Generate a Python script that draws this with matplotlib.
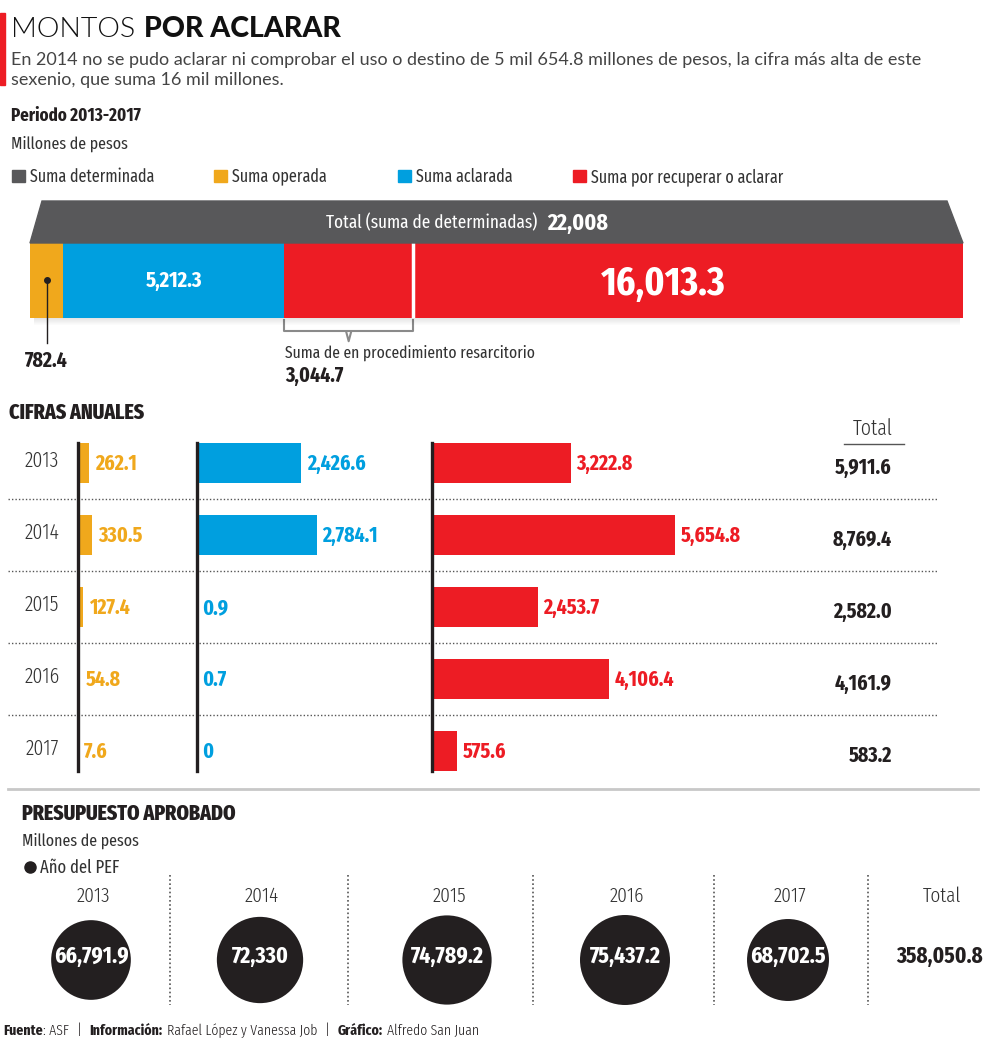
import numpy as np
import matplotlib
matplotlib.use("Agg")
import matplotlib.pyplot as plt
from matplotlib import font_manager
from matplotlib.patches import Polygon, Rectangle

# fuentes que hay en la maquina
instaladas = {f.name for f in font_manager.fontManager.ttflist}


def elegir(opciones):
    for o in opciones:
        if o in instaladas:
            return o
    return "DejaVu Sans"


ANGOSTA = elegir(["Fira Sans Extra Condensed", "Fira Sans Condensed", "Barlow Semi Condensed",
                  "Roboto Condensed", "Liberation Sans Narrow"])
LIGERA = elegir(["Lato", "Open Sans"])
plt.rcParams["font.family"] = [ANGOSTA, "DejaVu Sans"]

GRIS = "#58585a"
NARANJA = "#f0a81c"
AZUL = "#009fdf"
ROJO = "#ed1c24"
NEGRO = "#231f20"
TEXTO = "#333333"

# periodo 2013-2017, millones de pesos
suma_determinada = 22008
suma_operada = 782.4
suma_aclarada = 5212.3
suma_por_recuperar = 16013.3
suma_resarcitorio = 3044.7

# cifras anuales
anios = ["2013", "2014", "2015", "2016", "2017"]
operada = [262.1, 330.5, 127.4, 54.8, 7.6]
aclarada = [2426.6, 2784.1, 0.9, 0.7, 0]
por_recuperar = [3222.8, 5654.8, 2453.7, 4106.4, 575.6]
total_anual = [5911.6, 8769.4, 2582.0, 4161.9, 583.2]

# presupuesto aprobado (PEF)
pef = [66791.9, 72330, 74789.2, 75437.2, 68702.5]
pef_total = 358050.8

leyenda = ["Suma determinada", "Suma operada", "Suma aclarada", "Suma por recuperar o aclarar"]


def fmt(v):
    if isinstance(v, int):
        return f"{v:,}"
    return f"{v:,.1f}"


W, H = 1000, 1043
fig = plt.figure(figsize=(W / 100, H / 100), dpi=100)
ax = fig.add_axes([0, 0, 1, 1])
ax.set_xlim(0, W)
ax.set_ylim(H, 0)
ax.axis("off")
ax.patch.set_visible(False)
ax.set_zorder(5)  # textos encima de los ejes de barras
rend = fig.canvas.get_renderer()


def caja(x, y, w, h):
    # rectangulo en pixeles medido desde arriba -> fraccion de figura
    return [x / W, 1 - (y + h) / H, w / W, h / H]


def renglon(x, y, partes, **kw):
    # varios estilos en una misma linea
    for texto, estilo, hueco in partes:
        t = ax.text(x, y, texto, **kw, **estilo)
        x += t.get_window_extent(renderer=rend).width + hueco
    return x


# ---- encabezado
ax.add_patch(Rectangle((0, 13), 5, 72, color=ROJO))
renglon(11, 37, [("MONTOS", dict(family=LIGERA, weight=300), 9),
                 ("POR ACLARAR", dict(family=LIGERA, weight=900), 0)],
        va="baseline", size=20.5, color="#111111")
sub = dict(family=LIGERA, weight=400, size=13.0, color="#444444", va="baseline")
ax.text(11, 65, "En 2014 no se pudo aclarar ni comprobar el uso o destino de 5 mil 654.8 millones de pesos, "
        "la cifra más alta de este", **sub)
ax.text(11, 85, "sexenio, que suma 16 mil millones.", **sub)

ax.text(11, 121, "Periodo 2013-2017", weight="bold", size=13.2, color=NEGRO, va="baseline")
ax.text(11, 149, "Millones de pesos", size=12.5, color=TEXTO, va="baseline")

colores = [GRIS, NARANJA, AZUL, ROJO]
xs_ley = [12, 214, 398, 573]
for xl, c, nombre in zip(xs_ley, colores, leyenda):
    ax.add_patch(Rectangle((xl, 170), 13, 12, color=c))
    ax.text(xl + 18, 182, nombre, size=12.6, color=TEXTO, va="baseline")

# ---- barra del total
ax.add_patch(Polygon([(42, 201), (947, 201), (963, 243), (30, 243)], closed=True, color=GRIS))
for k in range(7):
    ax.add_patch(Rectangle((34, 318 + k), 926, 1, color="black", alpha=0.10 * (1 - k / 7), lw=0))
renglon(326, 223, [("Total (suma de determinadas)", dict(size=13.5), 10),
                   (fmt(suma_determinada), dict(size=17, weight="bold"), 0)],
        va="center", color="white")

axb = fig.add_axes(caja(30, 243, 933, 75))
axb.set_xlim(0, suma_determinada)
axb.set_ylim(0, 1)
axb.axis("off")
izq = 0
for v, c in zip([suma_operada, suma_aclarada, suma_por_recuperar], colores[1:]):
    axb.barh(0.5, v, height=1, left=izq, color=c)
    izq += v
fin_res = suma_operada + suma_aclarada + suma_resarcitorio
axb.axvline(fin_res, color="white", lw=2.5)
axb.text(suma_operada + suma_aclarada / 2, 0.5, fmt(suma_aclarada), color="white", weight="bold",
         size=16, ha="center", va="center")
ax.text(663, 284, fmt(suma_por_recuperar), color="white", weight="bold", size=29, ha="center",
        va="center")

# punto y linea del 782.4
axb.plot([suma_operada / 2] * 2, [0.5, -0.33], color=NEGRO, lw=1, clip_on=False)
axb.plot(suma_operada / 2, 0.5, "o", color=NEGRO, ms=4, clip_on=False)
ax.text(46, 361, fmt(suma_operada), weight="bold", size=15.5, color=NEGRO, ha="center", va="center")

# llave del procedimiento resarcitorio
ini_res = suma_operada + suma_aclarada
med = (ini_res + fin_res) / 2
axb.plot([ini_res, ini_res, fin_res, fin_res], [-0.03, -0.18, -0.18, -0.03], color="#8a8a8a", lw=1.5,
         clip_on=False)
axb.plot([med - 60, med, med + 60], [-0.18, -0.31, -0.18], color="#8a8a8a", lw=1.5, clip_on=False)
ax.text(285, 358, "Suma de en procedimiento resarcitorio", size=12.2, color=TEXTO, va="baseline")
ax.text(285, 382, fmt(suma_resarcitorio), size=15.5, weight="bold", color=NEGRO, va="baseline")

# ---- cifras anuales
ax.text(9, 419, "CIFRAS ANUALES", weight=800, size=15.5, color=NEGRO, va="baseline")
filas = np.arange(len(anios))
y0, paso = 427, 72
yc = y0 + paso / 2 + paso * filas
esc = 0.043  # pixeles por millon

for y in y0 + paso * (filas[1:]):
    ax.plot([8, 938], [y, y], color="#555555", lw=1, ls=(0, (1, 1.5)))

columnas = [(78, 110, operada, NARANJA), (197, 230, aclarada, AZUL), (432, 400, por_recuperar, ROJO)]
for x0, ancho, vals, c in columnas:
    a = fig.add_axes(caja(x0, y0, ancho, paso * len(anios)))
    a.set_xlim(0, ancho / esc)
    a.set_ylim(len(anios) - 0.5, -0.5)
    a.axis("off")
    a.barh(filas, vals, height=0.555, color=c)
    for i, v in enumerate(vals):
        a.annotate(fmt(v), (v, i), xytext=(4, -0.5), textcoords="offset points", color=c,
                   weight="bold", size=15.5, ha="left", va="center")
    ax.plot([x0, x0], [443, 771], color=NEGRO, lw=2.4)

for y, anio, tot in zip(yc, anios, total_anual):
    ax.text(42, y - 2, anio, size=15.5, weight=300, color=TEXTO, ha="center", va="center")
    ax.text(892, y + 5, fmt(tot), size=15.5, weight="bold", color=NEGRO, ha="right", va="center")
ax.text(873, 429, "Total", size=15.5, weight=300, color=TEXTO, ha="center", va="center")
ax.plot([844, 904], [444, 444], color="#555555", lw=1)

ax.plot([8, 978], [789, 789], color="#c8c8c8", lw=2)

# ---- presupuesto aprobado
ax.text(22, 820, "PRESUPUESTO APROBADO", weight=800, size=15.5, color=NEGRO, va="baseline")
ax.text(22, 846, "Millones de pesos", size=12.5, color=TEXTO, va="baseline")
ax.plot(30, 867, "o", color=NEGRO, ms=8)
ax.text(40, 868, "Año del PEF", size=13, color=TEXTO, va="center")

xs_pef = [91, 260, 447, 625, 788]
for xsep in [170, 348, 533, 714, 868]:
    ax.plot([xsep, xsep], [875, 1005], color="#555555", lw=1.2, ls=(0, (1, 1.5)))

radio = 45 * np.array(pef) / max(pef)  # en pixeles
ax.scatter(xs_pef, [960] * len(pef), s=(2 * radio * 0.72) ** 2, color=NEGRO, lw=0, zorder=3)
for x, anio, v in zip(xs_pef, anios, pef):
    ax.text(x + 2, 896, anio, size=15, weight=300, color=TEXTO, ha="center", va="center")
    ax.text(x, 956, fmt(v), size=17, weight="bold", color="white", ha="center", va="center", zorder=4)
ax.text(942, 896, "Total", size=15, weight=300, color=TEXTO, ha="center", va="center")
ax.text(940, 956, fmt(pef_total), size=16.5, weight="bold", color=NEGRO, ha="center", va="center")

# ---- pie
negrita = dict(weight="bold")
normal = dict(weight=300)
renglon(3, 1031, [("Fuente", negrita, 0), (": ASF", normal, 8), ("|", normal, 8),
                  ("Información:", negrita, 4), ("Rafael López y Vanessa Job", normal, 8),
                  ("|", normal, 8), ("Gráfico:", negrita, 4), ("Alfredo San Juan", normal, 0)],
        va="center", size=10.8, color=NEGRO)

fig.savefig("out.png", dpi=100)
